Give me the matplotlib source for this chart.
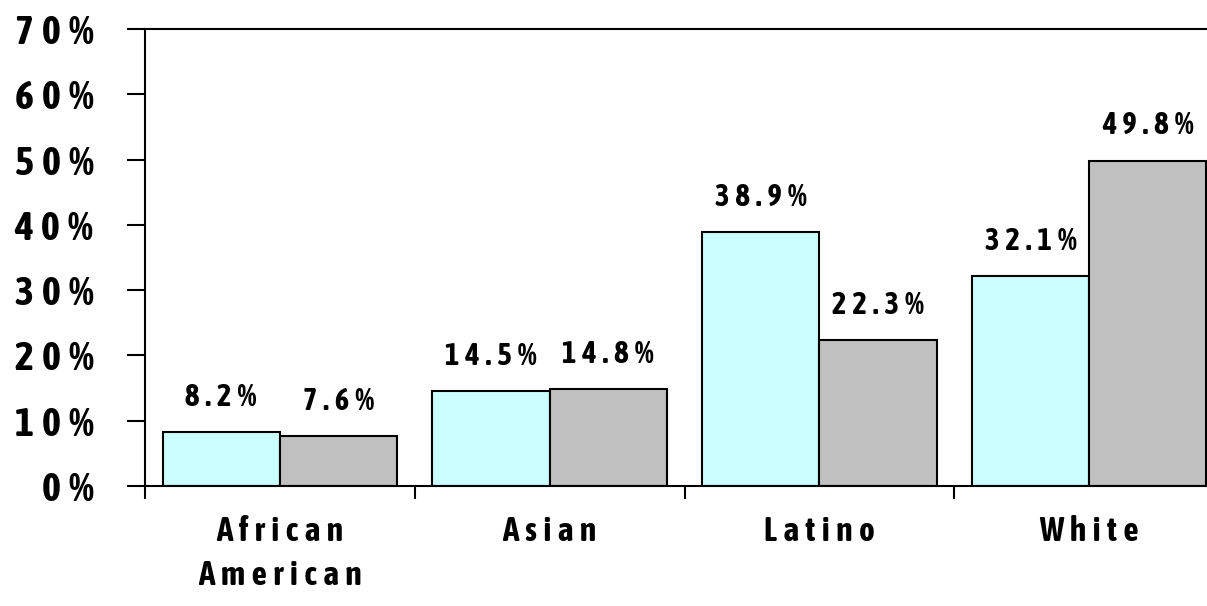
import matplotlib.pyplot as plt
import numpy as np
from matplotlib import font_manager
import matplotlib.patheffects as pe
from matplotlib.ticker import FixedLocator

# data
groups = ["African\nAmerican", "Asian", "Latino", "White"]
series_a = [8.2, 14.5, 38.9, 32.1]
series_b = [7.6, 14.8, 22.3, 49.8]
yticks = [0, 10, 20, 30, 40, 50, 60, 70]

# look for a condensed face, the original looks like Arial Narrow bold
ents = font_manager.fontManager.ttflist
narrow = sorted({f.name for f in ents if "Narrow" in f.name or "Condensed" in f.name})
bold_narrow = [n for n in narrow
               if any(f.name == n and f.weight in ("bold", 700, 800, 900) for f in ents)]
pick = (bold_narrow or narrow)[:1]
fonts = pick + ["Liberation Sans", "DejaVu Sans"]
# fake the heavy weight with an outline if the face has no bold
fx = [] if bold_narrow else [pe.withStroke(linewidth=1.6, foreground="black")]

SP = "\u2009"


def spaced(s):
    # the original chart spreads the letters out
    return "\n".join(SP.join(line) for line in s.split("\n"))


fig = plt.figure(figsize=(12.07, 6.06), dpi=100)
ax = fig.add_axes([145 / 1207, 120 / 606, 1079 / 1207, 457 / 606])

x = np.arange(len(groups))
w = 0.435
ax.bar(x - w / 2, series_a, w, color="#CCFFFF", edgecolor="black", linewidth=1.5)
ax.bar(x + w / 2, series_b, w, color="#C0C0C0", edgecolor="black", linewidth=1.5)

for xi, a, b in zip(x, series_a, series_b):
    for xx, v in ((xi - w / 2, a), (xi + w / 2, b)):
        ax.annotate(spaced(f"{v:.1f}%"), (xx, v), xytext=(0, 14),
                    textcoords="offset points", ha="center", va="bottom",
                    fontsize=22, fontweight="bold", family=fonts, path_effects=fx)

ax.set_xlim(-0.5, 3.5)
ax.set_ylim(0, 70)
ax.set_yticks(yticks)
ax.set_yticklabels([spaced(f"{t}%") for t in yticks], fontsize=29,
                   fontweight="bold", family=fonts, path_effects=fx)
ax.tick_params(axis="y", length=13, width=1.5, pad=24)

ax.set_xticks(x)
ax.set_xticklabels([spaced(g) for g in groups], fontsize=24,
                   fontweight="bold", family=fonts, linespacing=1.4,
                   path_effects=fx)
ax.xaxis.set_minor_locator(FixedLocator(np.arange(-0.5, 4, 1)))
ax.tick_params(axis="x", which="major", length=0, pad=21)
ax.tick_params(axis="x", which="minor", length=9, width=1.5)

for s in ("left", "bottom", "top"):
    ax.spines[s].set_linewidth(1.5)
ax.spines["right"].set_visible(False)

fig.savefig("out.png", dpi=100)
